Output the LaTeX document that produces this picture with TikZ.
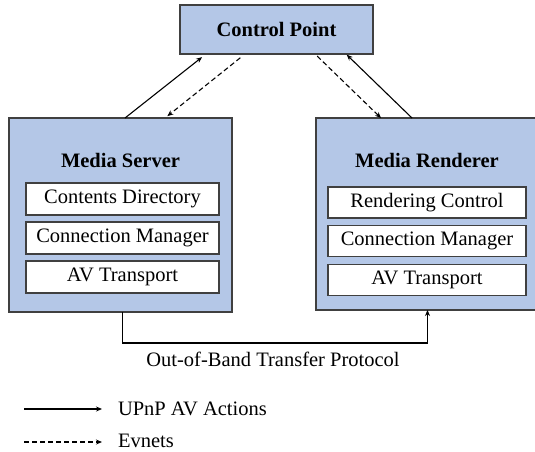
\documentclass[tikz,border=0pt]{standalone}
\usepackage{fontspec}
\setmainfont{Liberation Serif}
\usetikzlibrary{arrows.meta,calc}
\definecolor{boxblue}{HTML}{B4C7E7}
\definecolor{edge}{HTML}{404040}
\begin{document}
\begin{tikzpicture}[x=1pt,y=-1pt,
  font=\fontsize{20.5}{24}\selectfont,
  outerbox/.style={draw=edge,line width=1.2pt,fill=boxblue,inner sep=0pt,outer sep=0pt},
  innerbox/.style={draw=edge,line width=1.1pt,fill=white,inner sep=0pt,outer sep=0pt},
  conn/.style={line width=1.1pt,-{Stealth[length=6pt,width=5pt]}},
  evt/.style={conn,dash pattern=on 5pt off 3pt},
  plain/.style={inner sep=0pt,outer sep=0pt}]
\useasboundingbox (0,0) rectangle (535,451);
\fill[white] (0,0) rectangle (535,451);
% Control Point
\node[outerbox,minimum width=193pt,minimum height=49pt] (cp) at (276.5,29.5) {\bfseries Control Point};
% Media Server
\node[outerbox,minimum width=223pt,minimum height=194pt] (ms) at (120.5,215) {};
\node[plain] (mst) at (120.5,160) {\bfseries Media Server};
\node[innerbox,minimum width=193pt,minimum height=32pt] (ms1) at (122.5,199) {Contents Directory};
\node[innerbox,minimum width=193pt,minimum height=32pt] (ms2) at (122.5,238) {Connection Manager};
\node[innerbox,minimum width=193pt,minimum height=32pt] (ms3) at (122.5,277) {AV Transport};
% Media Renderer
\node[outerbox,minimum width=221pt,minimum height=192pt] (mr) at (426.5,214) {};
\node[plain] (mrt) at (427,160) {\bfseries Media Renderer};
\node[innerbox,minimum width=198pt,minimum height=31pt] (mr1) at (427,202.5) {Rendering Control};
\node[innerbox,minimum width=198pt,minimum height=31pt] (mr2) at (427,241) {Connection Manager};
\node[innerbox,minimum width=198pt,minimum height=31pt] (mr3) at (427,280) {AV Transport};
% actions and events
\draw[conn,shorten >=5pt] ([xshift=116pt]ms.north west) -- ([xshift=26pt]cp.south west);
\draw[evt,shorten <=6pt,shorten >=3pt] ([xshift=65pt]cp.south west) -- ([xshift=156pt]ms.north west);
\draw[evt,shorten <=3pt] ([xshift=135pt]cp.south west) -- ([xshift=65pt]mr.north west);
\draw[conn,shorten >=1pt] ([xshift=96pt]mr.north west) -- ([xshift=166pt]cp.south west);
% out-of-band transfer
\coordinate (msb) at ([xshift=113.5pt]ms.south west);
\coordinate (mrb) at ([xshift=111.5pt]mr.south west);
\coordinate (low) at (0,343);
\draw[conn] (msb) -- (msb |- low) -| (mrb);
\node[plain,anchor=base] (oob) at (273,366) {Out-of-Band Transfer Protocol};
% legend
\coordinate (l1a) at (24,409);
\coordinate (l1b) at (102,409);
\coordinate (l2a) at (24,442);
\coordinate (l2b) at (102,442);
\draw[conn] (l1a) -- (l1b);
\draw[evt] (l2a) -- (l2b);
\node[plain,anchor=base west] (lt1) at (118,415.5) {UPnP AV Actions};
\node[plain,anchor=base west] (lt2) at (118,447.5) {Evnets};
\end{tikzpicture}
\end{document}
